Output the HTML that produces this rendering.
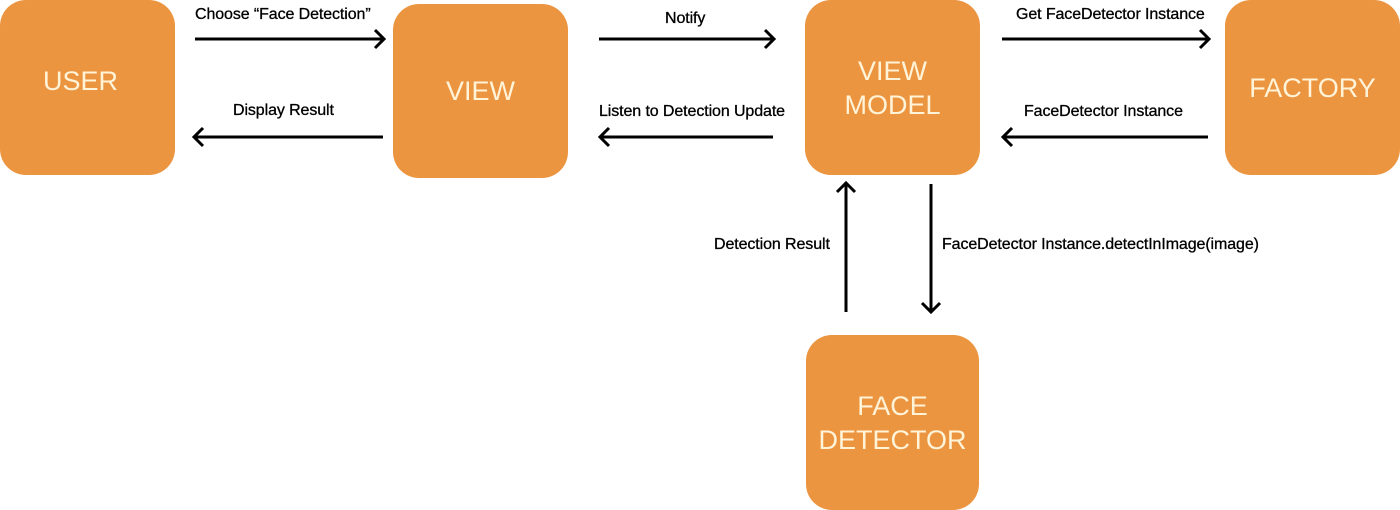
<!DOCTYPE html>
<html><head><style>
body{margin:0;width:1400px;height:510px;background:#fff;position:relative;overflow:hidden;font-family:"Liberation Sans",sans-serif}
.b{position:absolute;background:#ec9541;border-radius:26px;color:#fff3d8;font-size:27px;display:flex;align-items:center;justify-content:center;text-align:center;line-height:34px}
.l{position:absolute;font-size:16px;color:#000;white-space:nowrap;letter-spacing:-0.1px;-webkit-text-stroke:0.3px #000}
</style></head><body>
<div class="b" style="left:0;top:0;width:175px;height:175px;padding:0 14px 14px 0;box-sizing:border-box">USER</div>
<div class="b" style="left:393px;top:4px;width:175px;height:174px">VIEW</div>
<div class="b" style="left:805px;top:0;width:175px;height:175px">VIEW<br>MODEL</div>
<div class="b" style="left:1225px;top:0;width:175px;height:175px">FACTORY</div>
<div class="b" style="left:806px;top:335px;width:173px;height:175px">FACE<br>DETECTOR</div>
<svg width="1400" height="510" style="position:absolute;left:0;top:0" fill="none" stroke="#000" stroke-width="3">
<path d="M195 39H384M375 30l9 9-9 9"/>
<path d="M599 39H774M765 30l9 9-9 9"/>
<path d="M1002 39H1209M1200 30l9 9-9 9"/>
<path d="M383 137H194M203 128l-9 9 9 9"/>
<path d="M773 137H600M609 128l-9 9 9 9"/>
<path d="M1208 137H1003M1012 128l-9 9 9 9"/>
<path d="M846 312V183M837 192l9-9 9 9"/>
<path d="M931 184V312M922 303l9 9 9-9"/>
</svg>
<div class="l" style="left:195px;top:6px">Choose “Face Detection”</div>
<div class="l" style="left:233px;top:102px">Display Result</div>
<div class="l" style="left:665px;top:10px">Notify</div>
<div class="l" style="left:599px;top:103px">Listen to Detection Update</div>
<div class="l" style="left:1016px;top:6px">Get FaceDetector Instance</div>
<div class="l" style="left:1024px;top:103px">FaceDetector Instance</div>
<div class="l" style="left:714px;top:236px">Detection Result</div>
<div class="l" style="left:942px;top:236px">FaceDetector Instance.detectInImage(image)</div>
</body></html>
